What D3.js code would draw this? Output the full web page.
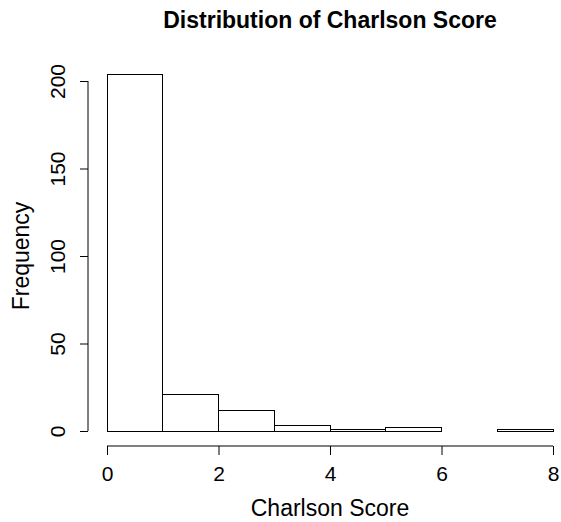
<!DOCTYPE html>
<html>
<head>
<meta charset="utf-8">
<script src="https://cdn.jsdelivr.net/npm/d3@7"></script>
<style>
  html, body { margin: 0; padding: 0; background: #fff; }
  svg { display: block; font-family: "Liberation Sans", Arial, sans-serif; }
</style>
</head>
<body>
<svg id="chart" width="561" height="522"></svg>
<script>
// Histogram bins of the Charlson comorbidity score (width 1)
const binStarts = [0, 1, 2, 3, 4, 5, 6, 7];
const binWidth = 1;
const frequencies = [204, 21, 12, 3, 1, 2, 0, 1];
const xTicks = [0, 2, 4, 6, 8];
const yTicks = [0, 50, 100, 150, 200];

const FONT = "Liberation Sans, Arial, sans-serif";
const svg = d3.select("#chart");

const x = d3.scaleLinear().domain([0, 8]).range([107, 553]);
const y = d3.scaleLinear().domain([0, 200]).range([431, 81]);

// bars
svg.append("g")
  .selectAll("rect")
  .data(binStarts.map((s, i) => ({ s, f: frequencies[i] })))
  .join("rect")
  .attr("x", d => x(d.s))
  .attr("width", d => x(d.s + binWidth) - x(d.s))
  .attr("y", d => y(d.f))
  .attr("height", d => y(0) - y(d.f))
  .attr("fill", "#fff")
  .attr("stroke", "#000")
  .attr("stroke-width", 1)
  .attr("shape-rendering", "crispEdges");

// x axis
const xAxis = svg.append("g")
  .attr("transform", "translate(0,446)")
  .call(d3.axisBottom(x).tickValues(xTicks).tickSize(9).tickPadding(0).tickFormat(d3.format("d")));
xAxis.select(".domain").attr("d", `M${x(0)},0H${x(8)}`);
xAxis.selectAll(".tick text")
  .attr("font-size", 21).attr("fill", "#000").attr("font-family", FONT)
  .attr("dy", 0).attr("y", 35);

// y axis
const yAxis = svg.append("g")
  .attr("transform", "translate(88,0)")
  .call(d3.axisLeft(y).tickValues(yTicks).tickSize(8).tickPadding(4).tickFormat(d3.format("d")));
yAxis.select(".domain").attr("d", `M0,${y(0)}V${y(200)}`);
yAxis.selectAll(".tick text")
  .attr("font-size", 21).attr("fill", "#000").attr("font-family", FONT)
  .attr("text-anchor", "middle")
  .attr("x", 0).attr("dy", 0)
  .attr("transform", "translate(-23,0) rotate(-90)");

// titles
svg.append("text")
  .attr("x", 330).attr("y", 28)
  .attr("text-anchor", "middle")
  .attr("font-size", 23).attr("font-weight", "bold")
  .text("Distribution of Charlson Score");

svg.append("text")
  .attr("x", 330).attr("y", 516)
  .attr("text-anchor", "middle")
  .attr("font-size", 23)
  .text("Charlson Score");

svg.append("text")
  .attr("transform", `translate(29,${(y(0) + y(200)) / 2}) rotate(-90)`)
  .attr("text-anchor", "middle")
  .attr("font-size", 23)
  .text("Frequency");
</script>
</body>
</html>
